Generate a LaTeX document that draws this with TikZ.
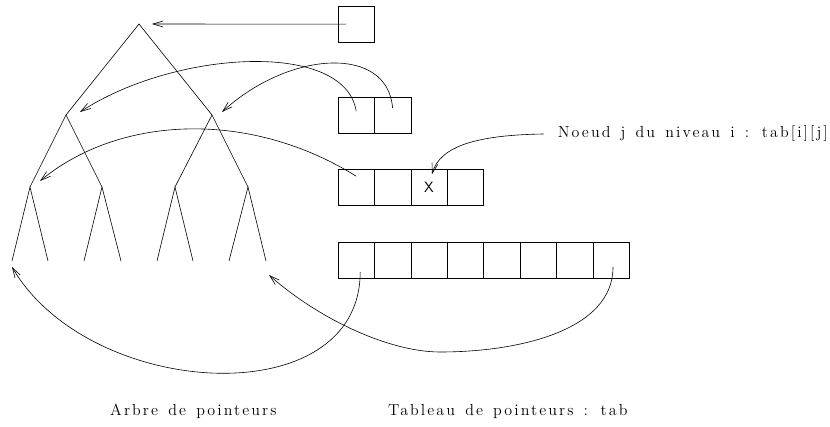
\documentclass[tikz,border=0pt]{standalone}
\usepackage{fontspec}
\usetikzlibrary{positioning,arrows.meta,calc}

\newfontfamily\spacedfont{lmroman12-regular.otf}[LetterSpace=13, WordSpace=1.4]

\tikzstyle{cell} = [draw, rectangle, minimum width=36.4pt, minimum height=36.4pt, inner sep=0pt, outer sep=0pt, line width=0.6pt]
\tikzstyle{branch} = [draw, line width=0.6pt]
\tikzstyle{pointer} = [draw, line width=0.6pt, -{Straight Barb[length=10pt,width=6pt]}]
\tikzstyle{caption} = [inner sep=0pt, font=\spacedfont\fontsize{16}{18}\selectfont]

\begin{document}
\begin{tikzpicture}[x=1pt, y=-1pt]
	\useasboundingbox (0,0) rectangle (830,427);

	% arbre
	\coordinate (r) at (139,24);
	\coordinate (a) at (66,115);
	\coordinate (b) at (212,115);
	\coordinate (aa) at (30,187);
	\coordinate (ab) at (102,187);
	\coordinate (ba) at (175,187);
	\coordinate (bb) at (248,187);
	\coordinate (f1) at (12,261);
	\coordinate (f2) at (48,261);
	\coordinate (f3) at (84,261);
	\coordinate (f4) at (121,261);
	\coordinate (f5) at (157,261);
	\coordinate (f6) at (193,261);
	\coordinate (f7) at (229,261);
	\coordinate (f8) at (266,261);

	\draw [branch] (a) -- (r) -- (b);
	\draw [branch] (aa) -- (a) -- (ab);
	\draw [branch] (ba) -- (b) -- (bb);
	\draw [branch] (f1) -- (aa) -- (f2);
	\draw [branch] (f3) -- (ab) -- (f4);
	\draw [branch] (f5) -- (ba) -- (f6);
	\draw [branch] (f7) -- (bb) -- (f8);

	% tableau
	\node [cell, anchor=north west] (top) at (338,6) {};
	\node [cell, anchor=north west] (p1) at (338,97) {};
	\node [cell, right=0pt of p1] (p2) {};
	\node [cell, anchor=north west] (q1) at (338,169) {};
	\node [cell, right=0pt of q1] (q2) {};
	\node [cell, right=0pt of q2, font=\sffamily\fontsize{15}{15}\selectfont] (q3) {X};
	\node [cell, right=0pt of q3] (q4) {};
	\node [cell, anchor=north west] (t1) at (338,242) {};
	\node [cell, right=0pt of t1] (t2) {};
	\node [cell, right=0pt of t2] (t3) {};
	\node [cell, right=0pt of t3] (t4) {};
	\node [cell, right=0pt of t4] (t5) {};
	\node [cell, right=0pt of t5] (t6) {};
	\node [cell, right=0pt of t6] (t7) {};
	\node [cell, right=0pt of t7] (t8) {};

	\node [caption, anchor=base east] (lbl) at (828,138) {Noeud j du niveau i : tab[i][j]};
	\node [caption, anchor=base west] (treecap) at (110,416) {Arbre de pointeurs};
	\node [caption, anchor=base west] (tabcap) at (388,416) {Tableau de pointeurs : tab};

	% pointeurs
	\draw [pointer] ($(top.center)+(-10,0)$) -- ($(r)+(13,0)$);
	\draw [pointer] ($(p1.center)+(0,-4)$) .. controls (345,40) and (175,50) .. ($(a)+(14,-3)$);
	\draw [pointer] ($(p2.center)+(0,-7)$) .. controls (388,45) and (290,50) .. ($(b)+(10,-3)$);
	\draw [pointer] ($(q1.center)+(0,-11)$) .. controls (250,110) and (120,115) .. ($(aa)+(10,-6)$);
	\draw [pointer] ($(lbl.west)+(-14,0)$) .. controls (480,135) and (440,145) .. ($(q3.center)+(3,-13)$);
	\draw [pointer] ($(t1.center)+(4,12)$) .. controls (360,415) and (90,400) .. ($(f1)+(0,6)$);
	\draw [pointer] ($(t8.center)+(2,7)$) .. controls (613,330) and (520,352) .. (440,352)
		.. controls (390,352) and (320,320) .. ($(f8)+(3,14)$);
\end{tikzpicture}
\end{document}
